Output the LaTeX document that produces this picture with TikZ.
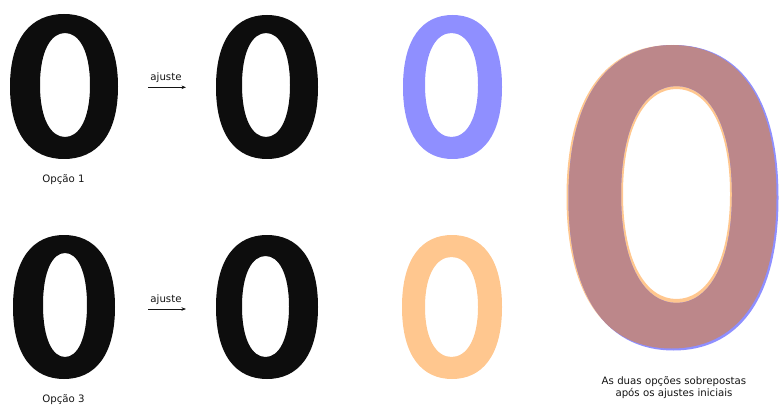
\documentclass[tikz,border=0pt]{standalone}
\usepackage{fontspec}
\setmainfont{DejaVu Sans}
\usetikzlibrary{arrows.meta}
\definecolor{glyphblack}{RGB}{13,13,13}
\definecolor{lilac}{RGB}{143,143,255}
\definecolor{peach}{RGB}{255,199,143}
\definecolor{mauve}{RGB}{188,135,138}
\definecolor{txt}{RGB}{20,20,20}
% oval path: x1 y1 x2 y2 kx ky
\newcommand\ovalpath[6]{%
  \pgfmathsetmacro\ocx{(#1+#3)/2}\pgfmathsetmacro\ocy{(#2+#4)/2}%
  \pgfmathsetmacro\oa{(#3-#1)/2}\pgfmathsetmacro\ob{(#4-#2)/2}%
  \pgfmathsetmacro\oxp{\ocx+#5*\oa}\pgfmathsetmacro\oxm{\ocx-#5*\oa}%
  \pgfmathsetmacro\oyp{\ocy+#6*\ob}\pgfmathsetmacro\oym{\ocy-#6*\ob}%
  \edef\opath{(#3,\ocy) .. controls (#3,\oym) and (\oxp,#2) .. (\ocx,#2)
    .. controls (\oxm,#2) and (#1,\oym) .. (#1,\ocy)
    .. controls (#1,\oyp) and (\oxm,#4) .. (\ocx,#4)
    .. controls (\oxp,#4) and (#3,\oyp) .. (#3,\ocy) -- cycle}%
}
% ring: colour, outer box, inner box
\newcommand\zeroring[9]{%
  \ovalpath{#2}{#3}{#4}{#5}{0.60}{0.68}\let\outerp\opath
  \ovalpath{#6}{#7}{#8}{#9}{0.56}{0.66}\let\innerp\opath
  \edef\ringcmd{\noexpand\fill[#1,even odd rule] \outerp\space \innerp;}%
  \ringcmd
}
\newcommand\ringclip[8]{%
  \ovalpath{#1}{#2}{#3}{#4}{0.60}{0.68}\let\outerp\opath
  \ovalpath{#5}{#6}{#7}{#8}{0.56}{0.66}\let\innerp\opath
  \edef\ringcmd{\noexpand\clip \outerp\space \innerp;}%
  \ringcmd
}
\tikzset{
  lbl/.style={text=txt, font=\fontsize{10.2}{12}\selectfont, inner sep=0pt, align=center},
  adjarrow/.style={draw=txt, line width=0.6pt, -{Stealth[length=4.5pt,width=3.5pt]}}
}
\begin{document}
\begin{tikzpicture}[x=1pt,y=-1pt]
\useasboundingbox (0,0) rectangle (781,406);
% top row
\zeroring{glyphblack}{10}{14}{118}{159}{40}{33}{90}{137}
\zeroring{glyphblack}{216}{15}{318}{159}{242}{33}{290}{137}
\zeroring{lilac}{403}{15}{502}{159}{425}{33}{478}{137}
% bottom row
\zeroring{glyphblack}{13}{235}{115}{379}{43}{253}{87}{357}
\zeroring{glyphblack}{216}{235}{318}{379}{242}{256}{289}{357}
\zeroring{peach}{402}{235}{502}{379}{425}{257}{478}{357}
% overlay
\zeroring{peach}{566.5}{45}{776.5}{348.5}{623}{89}{730}{299}
\zeroring{lilac}{568.5}{45}{778.5}{350.5}{621}{86}{732}{303}
\begin{scope}[even odd rule]
\ringclip{566.5}{45}{776.5}{348.5}{623}{89}{730}{299}
\zeroring{mauve}{568.5}{45}{778.5}{350.5}{621}{86}{732}{303}
\end{scope}
% labels
\node[lbl] (op1) at (63.5,180) {Opção 1};
\node[lbl] (op3) at (63.5,400) {Opção 3};
\node[lbl] (sob) at (674,387.5) {As duas opções sobrepostas\\após os ajustes iniciais};
% arrows
\coordinate (a1s) at (148,87.3);
\coordinate (a1e) at (186,87.3);
\draw[adjarrow] (a1s) -- (a1e);
\node[lbl] (aj1) at (166,78) {ajuste};
\coordinate (a2s) at (148,309);
\coordinate (a2e) at (186,309);
\draw[adjarrow] (a2s) -- (a2e);
\node[lbl] (aj2) at (166,300) {ajuste};
\end{tikzpicture}
\end{document}
